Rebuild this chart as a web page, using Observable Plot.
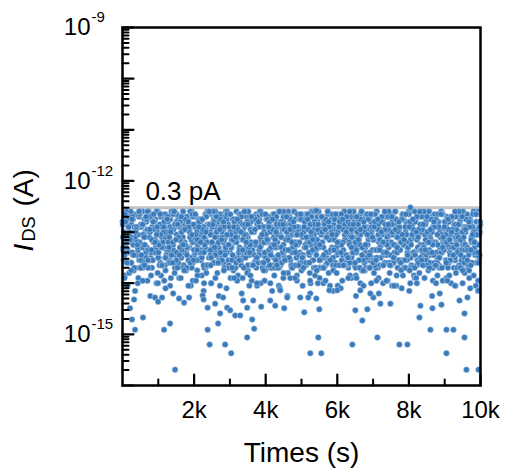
<!DOCTYPE html>
<html><head><meta charset="utf-8">
<script src="https://cdn.jsdelivr.net/npm/d3@7"></script>
<script src="https://cdn.jsdelivr.net/npm/@observablehq/plot@0.6"></script>
<style>body{margin:0;background:#fff} svg{display:block}</style>
</head><body><div id="chart"></div>
<script>
// Dense band: each character is a read level (0 = top of band, step 0.05 decade)
const bandLevels = "0123456789abcdefghijklmnopqrstuvwxyz";
const bandTopLog = -12.60;
const bandStepLog = 0.05;
const bandRows = [
  "4b9f1k3d7h2m5a8e0j6c3g9l1b7f4i0d6k2h8a5n3e9c1j7g4b6m0f8d2k5i1h7a3l9e6c0j4g8b2n5f7d1k3h9a6m2e8i4c0l7g5b1j9f3d6k8h2a4o0e7c3m9i5g1b6l2f8d4j0k7a9h3e5c1n8g6b2i4f0m7d3k9a5l1h8e6j2c4g0b7p3f9d5k1i8a2m6h4e0c7l9g3j5b1f8d6n2k4a0h7i",
  "ac5gk2hb9ejd0lf7mi3bgc6kae1hjd8fm4lbi0cge7akh2dfj9mb5ilc3gae6hkd1jfb8mci4lg0eah7dkj2fbm9ic5gla3ekh6djf0bmc8ilg1aek4hdj7fbm2cil9gae5khd3jfb6mci0lga8ehk1dj4fbm7cil2gae9khd5jfb3mci6lg0aek8hdj1fbm4cil7gae2khd9jfb5mci3lga6ek0h",
  "f2a8k5d1h9c6m3g0j7b4e8i2l5a9f3d7h1k6c0g4m8b2j5e9i3a7l1f6d0h4k8c2g5m9b3j7e1i6a0l4f8d2h5k9c3g7m1b6j0e4i8a2l5f9d3h7k1c6g0m4b8j2e5i9a3l7f1d6h0k4c8g2m5b9j3e7i1a6l0f4d8h2k5c9g3m7b1j6e0i4a8l2f5d9h3k7c1g6m0b4j8e2i5a9l3f7d1h6k0c4g8",
  "8d3k0g6b1m5e9i2a7j4f0l6c3h8k1d5g9b2m7e4i0a6j3f8l1c5h9k2d7g4b0m6e3i8a1j5f9l2c7h4k0d6g3b8m1e5i9a2j7f4l0c6h3k8d1g5b9m2e7i4a0j6f3l8c1h5k9d2g7b4m0e6i3a8j1f5l9c2h7k4d0g6b3m8e1i5a9j2f7l4c0h6k3d8g1b5m9e2i7a4j0f6l3c8h1k5",
  "ponqlrmspntoqlmrnposqtmlnpqormsnlptqomrnlspqmontrlqpsnmoqlrtpnmsqolnrpmqstlonpr",
  "5h0c8k3a6f1j9d4m2g7b0i5e8l3c6h1k9a4f7d2j0m5g8b3i6e1l9c4h7k2a5f0d8j3m6g1b9i4e7l2c5h0k8a3f6d1j9m4g7b2i5e0l8c3h6k1a9f4d7j2m5g0b8i3e6l1c9h4k7a2f5d0j8m3g6b1i9e4l7c2h5k0a8f3d6j1m9g4b7i2e5l0c8h3k6a1f9d4j7m2g5b0i8e3l6c1h9",
  "j4c9a2m7e0h5k3f8b1g6d9l4i2a7c0j5e8m3h6k1f9b4g7d2l5i0a8c3j6e1m9h4k7f2b5g0d8l3i6a1c9j4e7m2h5k0f8b3g6d1l9i4a7c2j5e0m8h3k6f1b9g4d7l2i5a0c8j3e6m1h9k4f7b2g5d0l8i3a6c1j9e4m7h2k5f0b8g3d6l1i9a4c7j2e5m0h8k3f6b1g9d4",
  "e1k6b3h8d0m5a2j7f4c9g1l6i3e8k0b5h2d7m4a9j1f6c3g8l0i5e2k7b4h9d1m6a3j8f0c5g2l7i4e9k1b6h3d8m0a5j2f7c4g9l1i6e3k8b0h5d2m7a4j9f1c6g3l8i0e5k2b7h4d9m1a6j3f8c0g5l2i7e4k9b1h6d3m8a0j5f2c7g4l9i1e6k3b8h0d5m2a7j4f9c1g6",
  "qnslporqmntpslonqrmptnsloqpmrnstolpqnmrsotpnqlmsrponqt",
  "tvrxsuwqtrvsxuqwtsrvuxqtwsrvuqxtswrtuvsqxwrtsuv"
];
const bandOffsets = [0.1, 0.35, 0.6, 0.85, 0.5, 0.22, 0.72, 0.47, 0.3, 0.65];
const maxTime = 10000;

// Sparse points below the band, read individually (time in s, log10 of current in A)
const outlierTimes = [322,210,573,266,350,909,1105,993,1580,1720,1860,1161,1329,1468,2238,2266,2378,2587,2727,2671,2378,2434,2867,3035,2811,2923,3007,3147,3622,3678,3482,3287,3874,4266,4517,3482,3650,3371,4126,5077,5497,5469,5245,5552,6420,6504,4965,5189,5413,4601,4406,5776,6000,5413,8042,6699,7119,7734,7958,8294,8601,9049,9245,9552,9049,9608,9944,6839,7007,7203,7483,8322,8657,8909,9413,9636,9552,9944,6643,6923];
const outlierLog = [-14.32,-14.49,-14.67,-14.71,-14.91,-14.28,-14.28,-14.36,-14.30,-14.38,-14.28,-14.91,-14.79,-15.69,-14.24,-14.32,-14.48,-14.40,-14.59,-14.79,-14.91,-15.20,-15.20,-15.37,-14.28,-14.48,-14.53,-14.63,-14.71,-14.89,-15.06,-14.63,-14.46,-14.44,-14.49,-14.48,-14.34,-14.34,-14.34,-14.57,-14.51,-15.06,-15.37,-15.37,-15.20,-14.53,-14.28,-14.28,-14.30,-14.28,-14.14,-14.14,-14.14,-12.58,-12.52,-14.73,-15.06,-15.20,-15.20,-14.67,-14.91,-14.91,-14.91,-15.06,-15.37,-15.69,-15.69,-14.51,-14.28,-14.40,-14.40,-14.44,-14.49,-14.42,-14.34,-14.28,-14.59,-14.14,-14.14,-14.20];

const limitValue = 3e-13;
const limitLabel = "0.3 pA";
const yDomain = [1e-16, 1e-9];
const yLabelExps = [-9, -12, -15];
const xTickValues = [2000, 4000, 6000, 8000, 10000];
const xTickLabels = ["2k", "4k", "6k", "8k", "10k"];
const xMinorTicks = [1000, 3000, 5000, 7000, 9000];
const xTitle = "Times (s)";

// Build table
const points = [];
bandRows.forEach((row, r) => {
  const n = row.length;
  for (let i = 0; i < n; i++) {
    const k = bandLevels.indexOf(row[i]);
    points.push({t: (i + bandOffsets[r]) / n * maxTime, v: 10 ** (bandTopLog - k * bandStepLog)});
  }
});
outlierTimes.forEach((t, i) => points.push({t, v: 10 ** outlierLog[i]}));

const yMajor = d3.range(-16, -8).map(e => 10 ** e);
const yMinor = [];
for (let e = -16; e < -9; e++) for (let m = 2; m <= 9; m++) yMinor.push(m * 10 ** e);

const lineShape = {draw(ctx, l) { ctx.moveTo(0, 0); ctx.lineTo(0, -l); }};
const font = "Liberation Sans, Arial, Helvetica, sans-serif";

const chart = Plot.plot({
  width: 506, height: 474,
  marginLeft: 122, marginRight: 26, marginTop: 27, marginBottom: 89,
  style: {fontFamily: font, background: "white", overflow: "visible"},
  x: {domain: [0, maxTime], axis: null},
  y: {type: "log", domain: yDomain, axis: null},
  marks: [
    Plot.ruleY([limitValue], {stroke: "#c3c3c3", strokeWidth: 3}),
    Plot.dot(points, {x: "t", y: "v", r: 3, fill: "#3a7bbb", stroke: "#c4d8ee", strokeWidth: 0.5}),
    Plot.text([limitLabel], {x: 640, y: 6.3e-13, text: d => d, textAnchor: "start", lineAnchor: "middle", fontSize: 26, fill: "black"}),
    // y ticks (inward)
    Plot.vector(yMajor, {y: d => d, frameAnchor: "left", rotate: 90, length: 11, anchor: "start", shape: lineShape, stroke: "black", strokeWidth: 2.2}),
    Plot.vector(yMinor, {y: d => d, frameAnchor: "left", rotate: 90, length: 6, anchor: "start", shape: lineShape, stroke: "black", strokeWidth: 2}),
    // x ticks (inward)
    Plot.vector(xTickValues, {x: d => d, frameAnchor: "bottom", rotate: 0, length: 11, anchor: "start", shape: lineShape, stroke: "black", strokeWidth: 2.2}),
    Plot.vector(xMinorTicks, {x: d => d, frameAnchor: "bottom", rotate: 0, length: 6, anchor: "start", shape: lineShape, stroke: "black", strokeWidth: 2}),
    Plot.frame({stroke: "black", strokeWidth: 2.5}),
    // y tick labels 10^e
    Plot.text(yLabelExps, {y: d => 10 ** d, text: () => "10", frameAnchor: "left", textAnchor: "end", lineAnchor: "middle", dx: -32, fontSize: 24, fill: "black"}),
    Plot.text(yLabelExps, {y: d => 10 ** d, text: d => String(d), frameAnchor: "left", textAnchor: "start", lineAnchor: "middle", dx: -31, dy: -10, fontSize: 15, fill: "black"}),
    // x tick labels
    Plot.text(xTickValues, {x: d => d, text: (d, i) => xTickLabels[i], frameAnchor: "bottom", lineAnchor: "middle", dy: 25, fontSize: 24, fill: "black"}),
    // axis titles
    Plot.text([xTitle], {text: d => d, frameAnchor: "bottom", lineAnchor: "middle", dy: 68, fontSize: 28, fill: "black"}),
    Plot.text(["I"], {text: d => d, frameAnchor: "top-left", rotate: -90, textAnchor: "start", lineAnchor: "middle", dx: -98, dy: 224, fontSize: 28, fontStyle: "italic", fill: "black"}),
    Plot.text(["DS"], {text: d => d, frameAnchor: "top-left", rotate: -90, textAnchor: "start", lineAnchor: "middle", dx: -93, dy: 214, fontSize: 18, fill: "black"}),
    Plot.text(["(A)"], {text: d => d, frameAnchor: "top-left", rotate: -90, textAnchor: "start", lineAnchor: "middle", dx: -98, dy: 179, fontSize: 28, fill: "black"})
  ]
});
document.getElementById("chart").appendChild(chart);
</script>
</body></html>
